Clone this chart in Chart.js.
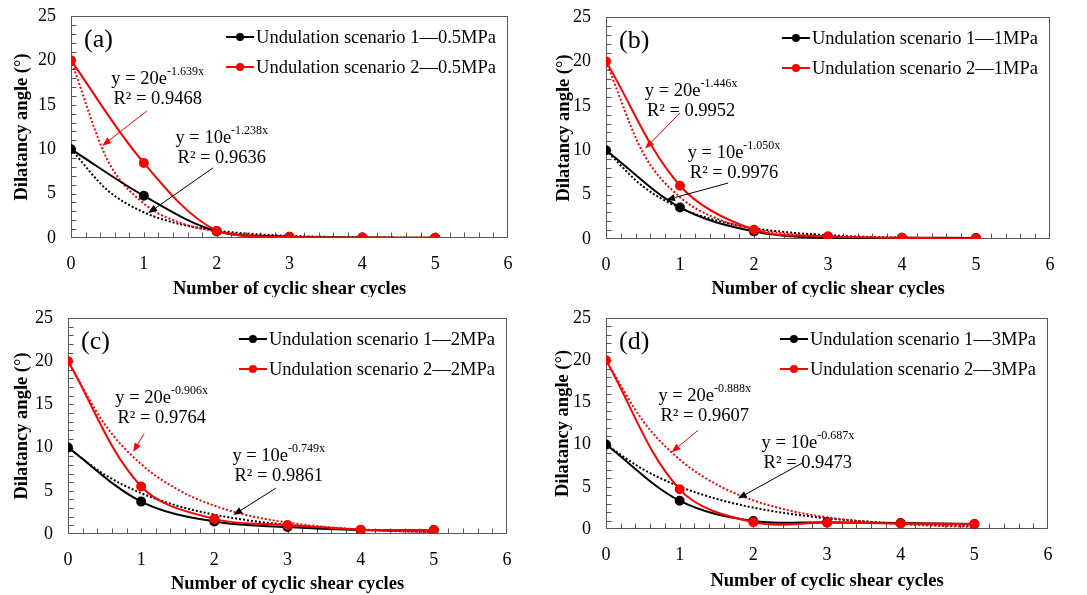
<!DOCTYPE html>
<html>
<head>
<meta charset="utf-8">
<script src="https://cdn.jsdelivr.net/npm/chart.js@4.4.1/dist/chart.umd.min.js"></script>
<style>
  body { margin: 0; background: #fff; }
  #wrap { position: relative; width: 1087px; height: 595px; overflow: hidden; }
  #wrap canvas { position: absolute; }
</style>
</head>
<body>
<div id="wrap">
  <canvas id="chartA" width="545" height="297" style="left:0;top:0"></canvas>
  <canvas id="chartB" width="542" height="297" style="left:545px;top:0"></canvas>
  <canvas id="chartC" width="545" height="298" style="left:0;top:297px"></canvas>
  <canvas id="chartD" width="542" height="298" style="left:545px;top:297px"></canvas>
</div>
<script>
const cycles = [0, 1, 2, 3, 4, 5];
const trendX = [0, 0.5, 1, 1.5, 2, 2.5, 3, 3.5, 4, 4.5, 5];
const yTicks = [0, 5, 10, 15, 20, 25];
const xTicks = [0, 1, 2, 3, 4, 5, 6];

// (a) 0.5MPa
const scenario1A = [10, 4.75, 0.75, 0.15, 0.05, 0.03];
const scenario2A = [20, 8.45, 0.8, 0.1, 0.05, 0.03];
const trend1A = [10, 5.39, 2.9, 1.56, 0.84, 0.45, 0.24, 0.13, 0.07, 0.04, 0.02];
const trend2A = [20, 8.81, 3.88, 1.71, 0.75, 0.33, 0.15, 0.06, 0.03, 0.01, 0.01];
const legendA = ["Undulation scenario 1\u20140.5MPa", "Undulation scenario 2\u20140.5MPa"];
const fit1A = ["y = 10e", "-1.238x", "R\u00b2 = 0.9636"];
const fit2A = ["y = 20e", "-1.639x", "R\u00b2 = 0.9468"];

// (b) 1MPa
const scenario1B = [10, 3.55, 0.85, 0.1, 0.15, 0.1];
const scenario2B = [20, 6.0, 1.05, 0.3, 0.15, 0.05];
const trend1B = [10, 5.92, 3.5, 2.07, 1.22, 0.72, 0.43, 0.25, 0.15, 0.09, 0.05];
const trend2B = [20, 9.71, 4.71, 2.29, 1.11, 0.54, 0.26, 0.13, 0.06, 0.03, 0.01];
const legendB = ["Undulation scenario 1\u20141MPa", "Undulation scenario 2\u20141MPa"];
const fit1B = ["y = 10e", "-1.050x", "R\u00b2 = 0.9976"];
const fit2B = ["y = 20e", "-1.446x", "R\u00b2 = 0.9952"];

// (c) 2MPa
const scenario1C = [10, 3.75, 1.45, 0.8, 0.45, 0.45];
const scenario2C = [20, 5.5, 1.75, 1.05, 0.5, 0.45];
const trend1C = [10, 6.88, 4.73, 3.25, 2.24, 1.54, 1.06, 0.73, 0.5, 0.34, 0.24];
const trend2C = [20, 12.71, 8.08, 5.14, 3.27, 2.08, 1.32, 0.84, 0.53, 0.34, 0.22];
const legendC = ["Undulation scenario 1\u20142MPa", "Undulation scenario 2\u20142MPa"];
const fit1C = ["y = 10e", "-0.749x", "R\u00b2 = 0.9861"];
const fit2C = ["y = 20e", "-0.906x", "R\u00b2 = 0.9764"];

// (d) 3MPa
const scenario1D = [10, 3.35, 0.95, 0.8, 0.7, 0.6];
const scenario2D = [20, 4.7, 0.8, 0.75, 0.65, 0.6];
const trend1D = [10, 7.09, 5.03, 3.57, 2.53, 1.8, 1.27, 0.9, 0.64, 0.45, 0.32];
const trend2D = [20, 12.83, 8.23, 5.28, 3.39, 2.17, 1.39, 0.89, 0.57, 0.37, 0.24];
const legendD = ["Undulation scenario 1\u20143MPa", "Undulation scenario 2\u20143MPa"];
const fit1D = ["y = 10e", "-0.687x", "R\u00b2 = 0.9473"];
const fit2D = ["y = 20e", "-0.888x", "R\u00b2 = 0.9607"];

const SERIF = "'Liberation Serif', 'Times New Roman', serif";
const RED = "#ff0000";
const AXIS = "#595959";
const TEXT_PX = 18.5;

Chart.defaults.font.family = SERIF;
Chart.defaults.color = "#000";

function toPoints(xs, ys) {
  return xs.map((x, i) => ({ x: x, y: ys[i] }));
}

function drawArrow(ctx, x1, y1, x2, y2, color) {
  const ang = Math.atan2(y2 - y1, x2 - x1);
  const head = 9, half = 3.5;
  const c = Math.cos(ang), s = Math.sin(ang);
  ctx.strokeStyle = color;
  ctx.fillStyle = color;
  ctx.lineWidth = 1;
  ctx.beginPath();
  ctx.moveTo(x1, y1);
  ctx.lineTo(x2 - head * c, y2 - head * s);
  ctx.stroke();
  ctx.beginPath();
  ctx.moveTo(x2, y2);
  ctx.lineTo(x2 - head * c + half * s, y2 - head * s - half * c);
  ctx.lineTo(x2 - head * c - half * s, y2 - head * s + half * c);
  ctx.closePath();
  ctx.fill();
}

function drawFit(ctx, cx, cy, fit) {
  ctx.fillStyle = "#000";
  ctx.textBaseline = "alphabetic";
  ctx.font = TEXT_PX + "px " + SERIF;
  const w1 = ctx.measureText(fit[0]).width;
  ctx.font = "12px " + SERIF;
  const w2 = ctx.measureText(fit[1]).width;
  const left = cx - (w1 + w2) / 2;
  ctx.textAlign = "left";
  ctx.font = TEXT_PX + "px " + SERIF;
  ctx.fillText(fit[0], left, cy + 6);
  ctx.font = "12px " + SERIF;
  ctx.fillText(fit[1], left + w1, cy - 3);
  ctx.font = TEXT_PX + "px " + SERIF;
  ctx.textAlign = "center";
  ctx.fillText(fit[2], cx, cy + 26);
}

const panelDecor = {
  id: "panelDecor",
  beforeDatasetsDraw(chart) {
    const { ctx, chartArea: area, scales: { x, y } } = chart;
    const l = Math.round(area.left) + 0.5, r = Math.round(area.right) - 0.5;
    const t = Math.round(area.top) + 0.5, b = Math.round(area.bottom) - 0.5;
    ctx.save();
    ctx.strokeStyle = AXIS;
    ctx.lineWidth = 1;
    ctx.strokeRect(l, t, r - l, b - t);
    ctx.beginPath();
    for (let v = 1; v < 25; v++) {
      const py = Math.round(y.getPixelForValue(v)) + 0.5;
      ctx.moveTo(l, py);
      ctx.lineTo(l + 5, py);
    }
    for (let k = 1; k < 30; k++) {
      const px = Math.round(x.getPixelForValue(k / 5)) + 0.5;
      ctx.moveTo(px, b);
      ctx.lineTo(px, b - 5);
    }
    ctx.stroke();
    ctx.restore();
  },
  afterDraw(chart, args, opts) {
    const { ctx, chartArea: area, scales: { x, y } } = chart;
    ctx.save();
    // panel label
    ctx.fillStyle = "#000";
    ctx.font = "26px " + SERIF;
    ctx.textAlign = "left";
    ctx.textBaseline = "middle";
    ctx.fillText(opts.label, area.left + 13, area.top + 24);

    // legend
    ctx.font = TEXT_PX + "px " + SERIF;
    const tw = Math.max(...opts.legend.map((s) => ctx.measureText(s).width));
    const tx = area.right - 12 - tw;
    [["#000", 21], [RED, 51]].forEach(([color, dy], i) => {
      const ly = area.top + dy;
      ctx.strokeStyle = color;
      ctx.fillStyle = color;
      ctx.lineWidth = 2;
      ctx.beginPath();
      ctx.moveTo(tx - 30, ly);
      ctx.lineTo(tx - 2, ly);
      ctx.stroke();
      ctx.beginPath();
      ctx.arc(tx - 16, ly, 4, 0, Math.PI * 2);
      ctx.fill();
      ctx.fillStyle = "#000";
      ctx.textBaseline = "middle";
      ctx.textAlign = "left";
      ctx.fillText(opts.legend[i], tx, ly + 1);
    });

    // fit equations with arrows
    opts.notes.forEach((n) => {
      drawFit(ctx, x.getPixelForValue(n.text[0]), y.getPixelForValue(n.text[1]), n.fit);
      drawArrow(ctx,
        x.getPixelForValue(n.from[0]), y.getPixelForValue(n.from[1]),
        x.getPixelForValue(n.to[0]), y.getPixelForValue(n.to[1]), n.color);
    });
    ctx.restore();
  },
};

function makePanel(id, s1, s2, t1, t2, p) {
  const dataLine = (label, values, color) => ({
    label: label,
    data: toPoints(cycles, values),
    borderColor: color,
    backgroundColor: color,
    borderWidth: 2,
    pointRadius: 4,
    pointHoverRadius: 4,
    tension: 0.35,
  });
  const trendLine = (label, values, color) => ({
    label: label,
    data: toPoints(trendX, values),
    borderColor: color,
    borderWidth: 2,
    borderDash: [2, 2],
    pointRadius: 0,
    cubicInterpolationMode: "monotone",
  });

  new Chart(document.getElementById(id), {
    type: "line",
    data: {
      datasets: [
        dataLine(p.legend[1], s2, RED),
        dataLine(p.legend[0], s1, "#000"),
        trendLine("trend 2", t2, RED),
        trendLine("trend 1", t1, "#000"),
      ],
    },
    options: {
      responsive: false,
      animation: false,
      layout: { padding: { top: p.pad[0], right: p.pad[1], bottom: 0, left: 0 } },
      plugins: {
        legend: { display: false },
        tooltip: { enabled: false },
        panelDecor: { label: p.label, legend: p.legend, notes: p.notes },
      },
      scales: {
        x: {
          type: "linear",
          min: 0,
          max: 6,
          afterBuildTicks: (scale) => { scale.ticks = xTicks.map((v) => ({ value: v })); },
          afterFit: (scale) => {
            scale.height = p.xHeight;
            scale.paddingLeft = 0;
            scale.paddingRight = 0;
          },
          grid: { display: false, drawTicks: false },
          border: { display: false },
          ticks: { padding: 15, font: { size: 18 }, color: "#000" },
          title: {
            display: true,
            text: "Number of cyclic shear cycles",
            font: { size: 18.5, weight: "bold" },
            color: "#000",
            padding: { top: 0, bottom: p.xTitlePad },
          },
        },
        y: {
          min: 0,
          max: 25,
          afterBuildTicks: (scale) => { scale.ticks = yTicks.map((v) => ({ value: v })); },
          afterFit: (scale) => {
            scale.width = p.yWidth;
            scale.paddingTop = 0;
            scale.paddingBottom = 0;
          },
          grid: { display: false, drawTicks: false },
          border: { display: false },
          ticks: { padding: 15, font: { size: 18 }, color: "#000" },
          title: {
            display: true,
            text: "Dilatancy angle (\u00b0)",
            font: { size: 18.5, weight: "bold" },
            color: "#000",
            padding: { top: p.yTitlePad, bottom: 0 },
          },
        },
      },
    },
    plugins: [panelDecor],
  });
}

makePanel("chartA", scenario1A, scenario2A, trend1A, trend2A, {
  label: "(a)", legend: legendA, pad: [16, 37], yWidth: 71, xHeight: 59, yTitlePad: 11, xTitlePad: -3,
  notes: [
    { fit: fit2A, text: [1.19, 18.0], from: [1.04, 14.3], to: [0.43, 10.4], color: RED },
    { fit: fit1A, text: [2.07, 11.4], from: [1.95, 7.9], to: [1.06, 2.8], color: "#000" },
  ],
});
makePanel("chartB", scenario1B, scenario2B, trend1B, trend2B, {
  label: "(b)", legend: legendB, pad: [17, 37], yWidth: 61, xHeight: 58, yTitlePad: 8, xTitlePad: -3,
  notes: [
    { fit: fit2B, text: [1.15, 16.8], from: [1.0, 14.2], to: [0.53, 10.2], color: RED },
    { fit: fit1B, text: [1.73, 9.8], from: [1.65, 6.3], to: [0.81, 4.4], color: "#000" },
  ],
});
makePanel("chartC", scenario1C, scenario2C, trend1C, trend2C, {
  label: "(c)", legend: legendC, pad: [21, 38], yWidth: 68, xHeight: 61, yTitlePad: 11, xTitlePad: 0,
  notes: [
    { fit: fit2C, text: [1.28, 15.9], from: [1.04, 11.6], to: [0.89, 9.5], color: RED },
    { fit: fit1C, text: [2.88, 9.1], from: [2.84, 5.3], to: [2.26, 2.2], color: "#000" },
  ],
});
makePanel("chartD", scenario1D, scenario2D, trend1D, trend2D, {
  label: "(d)", legend: legendD, pad: [21, 39], yWidth: 61, xHeight: 66, yTitlePad: 7, xTitlePad: 3,
  notes: [
    { fit: fit2D, text: [1.34, 15.9], from: [1.25, 11.7], to: [0.89, 9.1], color: RED },
    { fit: fit1D, text: [2.74, 10.3], from: [2.66, 7.8], to: [1.79, 3.6], color: "#000" },
  ],
});
</script>
</body>
</html>
